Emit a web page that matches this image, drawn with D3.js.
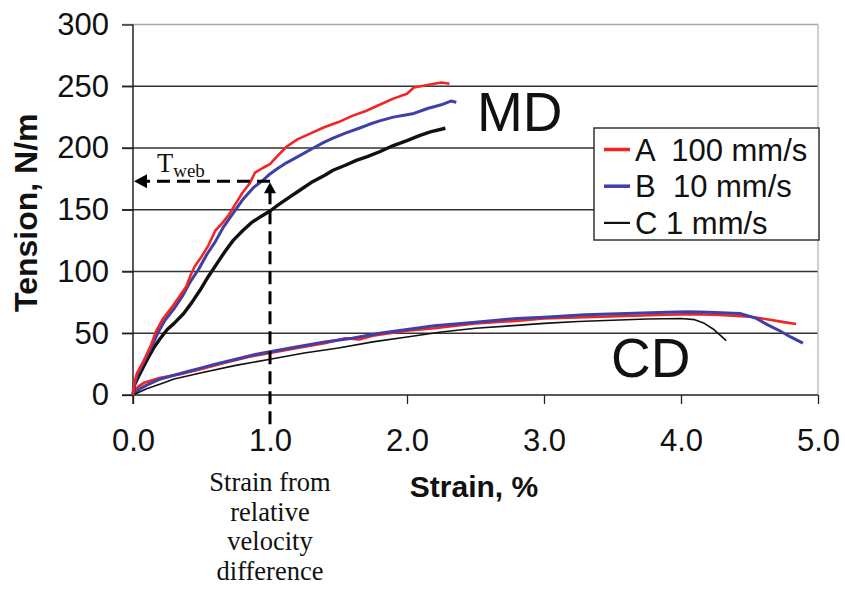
<html lang='en'>
<head>
<meta charset='UTF-8' />
<script src='https://d3js.org/d3.v7.min.js'></script>
<style>
  body { margin: 0; background: #fff; }
  .tick text { font-family: 'Liberation Sans', Arial, sans-serif; font-size: 31px; fill: #111; }
  .axis-title { font-family: 'Liberation Sans', Arial, sans-serif; font-weight: bold; fill: #111; }
  .big { font-family: 'Liberation Sans', Arial, sans-serif; font-size: 55px; fill: #111; }
  .leg { font-family: 'Liberation Sans', Arial, sans-serif; font-size: 31px; fill: #111; white-space: pre; }
  .note { font-family: 'Liberation Serif', 'Times New Roman', serif; font-size: 26.5px; fill: #111; }
</style>
<title>Tension vs strain</title>
</head>
<body>
<div id='chart'></div>
<script>
// ticks
const xTicks = [0, 1, 2, 3, 4, 5];
const yTicks = [0, 50, 100, 150, 200, 250, 300];

// series names / colours (legend)
const seriesNames = ["A  100 mm/s", "B  10 mm/s", "C 1 mm/s"];
const seriesColors = ["#f22525", "#3f3fa6", "#111111"];

// MD curves, [strain %, tension N/m]
const mdA = [[0,0],[0.01,10],[0.03,18],[0.08,28],[0.13,40],[0.17,52],[0.22,62],[0.29,72],[0.34,80],[0.39,88],[0.42,97],[0.45,104],[0.5,112],[0.55,121],[0.6,133],[0.65,139],[0.7,146],[0.75,155],[0.8,164],[0.85,171],[0.89,180],[0.95,184],[1.0,187],[1.05,193],[1.12,201],[1.2,207],[1.3,212],[1.4,217],[1.5,221],[1.6,226],[1.7,230],[1.8,235],[1.9,240],[2.0,244],[2.05,249],[2.15,251],[2.25,253],[2.31,252]];
const mdB = [[0,0],[0.01,8],[0.03,16],[0.08,27],[0.13,38],[0.18,50],[0.23,60],[0.3,70],[0.36,80],[0.42,92],[0.48,102],[0.54,114],[0.6,124],[0.66,136],[0.73,147],[0.8,158],[0.88,168],[0.95,174],[1.0,179],[1.05,183],[1.12,188],[1.22,194],[1.3,199],[1.4,205],[1.46,208],[1.55,212],[1.65,216],[1.72,219],[1.8,222],[1.9,225],[2.0,227],[2.05,228],[2.15,232],[2.25,235],[2.32,238],[2.36,237]];
const mdC = [[0,0],[0.01,8],[0.04,15],[0.1,28],[0.15,38],[0.2,46],[0.25,53],[0.3,58],[0.37,66],[0.43,75],[0.49,85],[0.55,96],[0.61,106],[0.67,116],[0.73,125],[0.8,133],[0.87,140],[0.94,145],[1.0,149],[1.06,154],[1.14,160],[1.22,166],[1.3,172],[1.4,178],[1.46,182],[1.55,186],[1.63,190],[1.71,193],[1.8,197],[1.9,202],[2.0,206],[2.09,210],[2.17,213],[2.28,216]];

// CD curves
const cdA = [[0,0],[0.03,6],[0.08,10],[0.2,14],[0.35,17],[0.5,21],[0.7,27],[0.85,31],[1.0,34],[1.2,38],[1.4,42],[1.55,46],[1.65,45],[1.75,48],[2.0,52],[2.2,54],[2.5,58],[2.8,60],[3.0,62],[3.3,63],[3.6,64],[3.9,65],[4.1,65.5],[4.28,64.8],[4.5,63.5],[4.65,61],[4.75,59],[4.84,57.5]];
const cdB = [[0,0],[0.05,5],[0.1,8],[0.2,13],[0.3,16],[0.4,19],[0.5,22],[0.6,25],[0.75,29],[0.9,33],[1.0,35],[1.2,39],[1.4,43],[1.6,46],[1.8,50],[2.0,53],[2.2,56],[2.5,59],[2.8,62],[3.0,63],[3.3,65],[3.6,66],[3.9,67],[4.05,67.5],[4.2,67],[4.43,66],[4.55,62],[4.63,57],[4.72,52],[4.8,47],[4.89,42]];
const cdC = [[0,0],[0.1,5],[0.2,9],[0.3,13],[0.5,18],[0.75,24],[1.0,29],[1.25,34],[1.5,38],[1.75,43],[2.0,47],[2.25,51],[2.5,54],[2.75,56],[3.0,58],[3.25,59.5],[3.5,60.5],[3.75,61.5],[4.0,62],[4.1,61],[4.17,58],[4.24,53],[4.3,47],[4.33,44]];

// T_web annotation point
const tWebStrain = 1.0;
const tWebTension = 173;

const width = 845, height = 594;
const margin = { top: 24.5, right: 27, bottom: 199, left: 133 };

const svg = d3.select("#chart").append("svg")
  .attr("width", width).attr("height", height);

const x = d3.scaleLinear().domain([0, 5]).range([margin.left, width - margin.right]);
const y = d3.scaleLinear().domain([0, 300]).range([height - margin.bottom, margin.top]);

// grid lines
svg.append("g").selectAll("line").data(yTicks.filter(d => d > 0)).join("line")
  .attr("x1", x(0) - 11).attr("x2", x(5))
  .attr("y1", d => y(d)).attr("y2", d => y(d))
  .attr("stroke", d => d === 300 ? "#a8a8a8" : "#333")
  .attr("stroke-width", 1.3);

// right border
svg.append("line")
  .attr("x1", x(5)).attr("x2", x(5)).attr("y1", y(300)).attr("y2", y(0))
  .attr("stroke", "#b5b5b5").attr("stroke-width", 1.3);

// axes
const gY = svg.append("g").attr("transform", `translate(${x(0)},0)`)
  .call(d3.axisLeft(y).tickValues(yTicks).tickSize(11).tickPadding(13));
gY.select(".domain").remove();
gY.selectAll(".tick line").attr("stroke", "#222").attr("stroke-width", 1.3);

const gX = svg.append("g").attr("transform", `translate(0,${y(0)})`)
  .call(d3.axisBottom(x).tickValues(xTicks).tickFormat(d3.format(".1f")).tickSize(9).tickPadding(25));
gX.select(".domain").remove();
gX.selectAll(".tick line").attr("stroke", "#222").attr("stroke-width", 1.3);

svg.append("line").attr("x1", x(0) - 11).attr("x2", x(5)).attr("y1", y(0)).attr("y2", y(0))
  .attr("stroke", "#222").attr("stroke-width", 1.5);
svg.append("line").attr("x1", x(0)).attr("x2", x(0)).attr("y1", y(300)).attr("y2", y(0) + 9)
  .attr("stroke", "#222").attr("stroke-width", 1.5);

// axis titles
svg.append("text").attr("class", "axis-title")
  .attr("text-anchor", "middle")
  .style("font-size", "32px")
  .attr("transform", `translate(37,${(y(0) + y(300)) / 2 + 3}) rotate(-90)`)
  .text("Tension, N/m");
svg.append("text").attr("class", "axis-title")
  .attr("text-anchor", "middle")
  .style("font-size", "30px")
  .attr("x", 474).attr("y", 497)
  .text("Strain, %");

// curves
const line = d3.line().x(d => x(d[0])).y(d => y(d[1]));
const curves = [
  { data: cdA, color: seriesColors[0], w: 2.6 },
  { data: cdB, color: seriesColors[1], w: 3 },
  { data: cdC, color: seriesColors[2], w: 1.6 },
  { data: mdC, color: seriesColors[2], w: 3.4 },
  { data: mdB, color: seriesColors[1], w: 3 },
  { data: mdA, color: seriesColors[0], w: 2.6 }
];
svg.append("g").selectAll("path").data(curves).join("path")
  .attr("d", d => line(d.data))
  .attr("fill", "none")
  .attr("stroke", d => d.color)
  .attr("stroke-width", d => d.w)
  .attr("stroke-linejoin", "round");

// MD / CD labels
svg.append("text").attr("class", "big").attr("x", 477).attr("y", 131).text("MD");
svg.append("text").attr("class", "big").attr("x", 611).attr("y", 377).text("CD");

// legend
const leg = svg.append("g").attr("transform", "translate(594,128)");
leg.append("rect").attr("width", 225).attr("height", 112)
  .attr("fill", "#fff").attr("stroke", "#333").attr("stroke-width", 1.5);
const legRows = leg.selectAll("g.row").data(seriesNames).join("g")
  .attr("class", "row")
  .attr("transform", (d, i) => `translate(0,${21.5 + i * 36.7})`);
legRows.append("line")
  .attr("x1", 10).attr("x2", 36)
  .attr("stroke", (d, i) => seriesColors[i])
  .attr("stroke-width", (d, i) => i < 2 ? 3.5 : 2.2);
legRows.append("text").attr("class", "leg")
  .attr("x", 41).attr("y", 11)
  .text(d => d);

// T_web annotation: dashed arrows
const ax = x(tWebStrain), ay = y(tWebTension);
svg.append("line")
  .attr("x1", ax).attr("x2", x(0) + 12).attr("y1", ay).attr("y2", ay)
  .attr("stroke", "#000").attr("stroke-width", 3).attr("stroke-dasharray", "13,7");
svg.append("path")
  .attr("d", `M${x(0) + 1},${ay} L${x(0) + 14},${ay - 7} L${x(0) + 14},${ay + 7} Z`)
  .attr("fill", "#000");
svg.append("line")
  .attr("x1", ax).attr("x2", ax).attr("y1", ay + 10).attr("y2", y(0) + 32)
  .attr("stroke", "#000").attr("stroke-width", 3).attr("stroke-dasharray", "13,7");
svg.append("path")
  .attr("d", `M${ax},${ay + 1} L${ax - 6},${ay + 12} L${ax + 6},${ay + 12} Z`)
  .attr("fill", "#000");

const tw = svg.append("text").attr("class", "note").attr("x", 157).attr("y", 172);
tw.append("tspan").text("T");
tw.append("tspan").attr("dy", 5).style("font-size", "19px").text("web");

// strain note
const noteLines = ["Strain from", "relative", "velocity", "difference"];
svg.append("g").selectAll("text").data(noteLines).join("text")
  .attr("class", "note")
  .attr("text-anchor", "middle")
  .attr("x", ax)
  .attr("y", (d, i) => 491 + i * 29.5)
  .text(d => d);
</script>
</body>
</html>
